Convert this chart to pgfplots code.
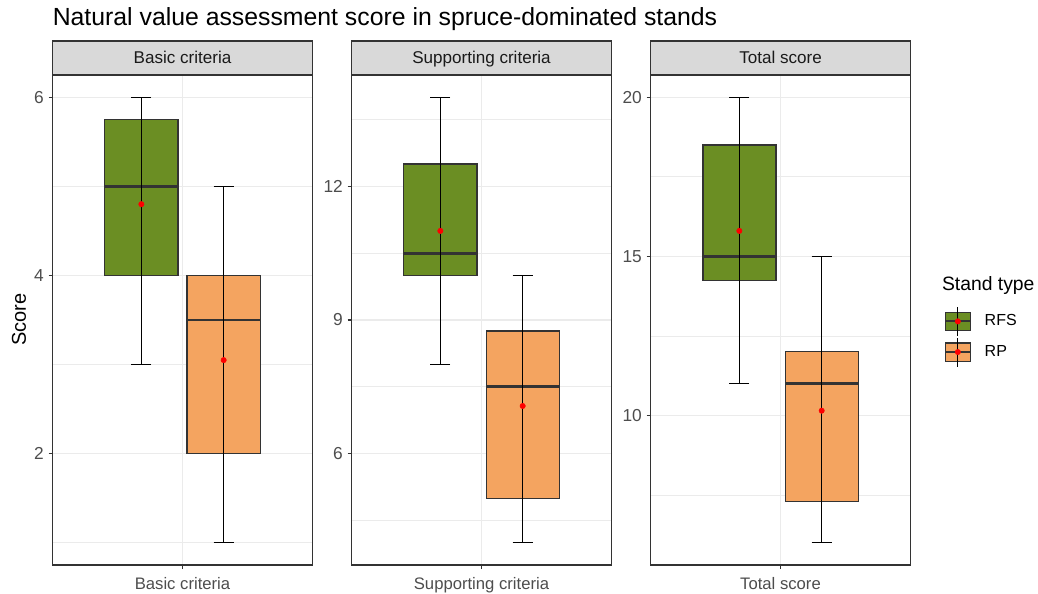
\documentclass[border=0pt]{standalone}
\usepackage{fontspec}
\setmainfont{Liberation Sans}
\usepackage{pgfplots}
\pgfplotsset{compat=1.18}
\usepgfplotslibrary{statistics}
\definecolor{grey10}{HTML}{1A1A1A}
\definecolor{grey20}{HTML}{333333}
\definecolor{grey30}{HTML}{4D4D4D}
\definecolor{grey85}{HTML}{D9D9D9}
\definecolor{grey92}{HTML}{EBEBEB}
\definecolor{olivedrab}{HTML}{6B8E23}
\definecolor{sandybrown}{HTML}{F4A460}
\pgfplotsset{
  facet/.style={
    scale only axis, width=195pt, height=367.5pt, anchor=south west,
    xmin=-0.6, xmax=0.6, xtick={0},
    boxplot/draw direction=y,
    tick align=outside, tick pos=left, major tick length=3pt, minor tick length=0pt,
    grid=both,
    major grid style={draw=grey92, line width=1pt},
    minor grid style={draw=grey92, line width=0.5pt},
    axis line style={draw=grey20, line width=1pt},
    every tick/.style={draw=grey20, line width=0.8pt},
    /pgf/number format/assume math mode=true,
    yticklabel style={font=\fontsize{13}{15}\selectfont, text=grey30},
    xticklabel style={font=\fontsize{12.5}{15}\selectfont, text=grey30, yshift=-3pt},
    every axis title/.style={at={(0.5,1)}, anchor=south, draw=grey20, fill=grey85,
      line width=1pt, outer sep=0pt, inner sep=0pt, minimum width=195pt, minimum height=25.5pt,
      text height=0.85em, text depth=0pt, text=grey10, font=\fontsize{12.8}{15}\selectfont},
  },
  bxRFS/.style={fill=olivedrab, draw=grey20, line width=1pt, mark=none, forget plot,
    boxplot/draw direction=y,
    boxplot/box extend=0.337, boxplot/whisker extend=0.092,
    boxplot/every median/.style={line width=2pt},
    boxplot/every whisker/.style={draw=black, line width=1.1pt}},
  bxRP/.style={bxRFS, fill=sandybrown},
  wline/.style={black, line width=1.1pt, forget plot},
  meanpt/.style={only marks, mark=*, mark size=2pt, color=red, mark options={draw=red, fill=red}, forget plot},
}
\begin{document}
\begin{tikzpicture}
\useasboundingbox (0,0) rectangle (778.5pt,444.75pt);
% Panel 1
\begin{axis}[facet, at={(39.375pt,21pt)}, ymin=0.75, ymax=6.25, ytick={2,4,6}, minor ytick={1,3,5},
  xticklabels={Basic criteria}, title={Basic criteria}]
\addplot+[bxRFS, boxplot prepared={draw position=-0.19, lower whisker=3, lower quartile=4, median=5, upper quartile=5.75, upper whisker=6}] coordinates {};
\addplot[wline] coordinates {(-0.19,3) (-0.19,6)};
\addplot[meanpt] coordinates {(-0.19,4.8)};
\addplot+[bxRP, boxplot prepared={draw position=0.19, lower whisker=1, lower quartile=2, median=3.5, upper quartile=4, upper whisker=5}] coordinates {};
\addplot[wline] coordinates {(0.19,1) (0.19,5)};
\addplot[meanpt] coordinates {(0.19,3.05)};
\end{axis}
% Panel 2
\begin{axis}[facet, at={(263.625pt,21pt)}, ymin=3.5, ymax=14.5, ytick={6,9,12}, minor ytick={4.5,7.5,10.5,13.5},
  xticklabels={Supporting criteria}, title={Supporting criteria}]
\addplot+[bxRFS, boxplot prepared={draw position=-0.19, lower whisker=8, lower quartile=10, median=10.5, upper quartile=12.5, upper whisker=14}] coordinates {};
\addplot[wline] coordinates {(-0.19,8) (-0.19,14)};
\addplot[meanpt] coordinates {(-0.19,11)};
\addplot+[bxRP, boxplot prepared={draw position=0.19, lower whisker=4, lower quartile=5, median=7.5, upper quartile=8.75, upper whisker=10}] coordinates {};
\addplot[wline] coordinates {(0.19,4) (0.19,10)};
\addplot[meanpt] coordinates {(0.19,7.07)};
\end{axis}
% Panel 3
\begin{axis}[facet, at={(487.875pt,21pt)}, ymin=5.3, ymax=20.7, ytick={10,15,20}, minor ytick={7.5,12.5,17.5},
  xticklabels={Total score}, title={Total score},
  legend style={at={(1.1288,0.5286)}, anchor=north west, draw=none, fill=none, inner sep=0pt,
    row sep=0.3pt, /tikz/column sep=10pt, nodes={inner sep=0pt, text=black, font=\fontsize{12}{14}\selectfont}},
  legend cell align=left]
\addlegendimage{legend image code/.code={
  \draw[grey20, line width=1pt, fill=olivedrab] (0pt,-6.9pt) rectangle (18.75pt,6.9pt);
  \draw[grey20, line width=1.6pt] (0pt,0pt) -- (18.75pt,0pt);
  \draw[black, line width=0.9pt] (9.375pt,-10.9pt) -- (9.375pt,10.9pt);
  \fill[red] (9.375pt,0pt) circle (2pt);}}
\addlegendentry{RFS}
\addlegendimage{legend image code/.code={
  \draw[grey20, line width=1pt, fill=sandybrown] (0pt,-6.9pt) rectangle (18.75pt,6.9pt);
  \draw[grey20, line width=1.6pt] (0pt,0pt) -- (18.75pt,0pt);
  \draw[black, line width=0.9pt] (9.375pt,-10.9pt) -- (9.375pt,10.9pt);
  \fill[red] (9.375pt,0pt) circle (2pt);}}
\addlegendentry{RP}
\addplot+[bxRFS, boxplot prepared={draw position=-0.19, lower whisker=11, lower quartile=14.25, median=15, upper quartile=18.5, upper whisker=20}] coordinates {};
\addplot[wline] coordinates {(-0.19,11) (-0.19,20)};
\addplot[meanpt] coordinates {(-0.19,15.8)};
\addplot+[bxRP, boxplot prepared={draw position=0.19, lower whisker=6, lower quartile=7.3, median=11, upper quartile=12, upper whisker=15}] coordinates {};
\addplot[wline] coordinates {(0.19,6) (0.19,15)};
\addplot[meanpt] coordinates {(0.19,10.15)};
\end{axis}
% Texts
\node[anchor=base west, inner sep=0pt, font=\fontsize{18.6}{22}\selectfont] at (39.4pt,425.25pt) {Natural value assessment score in spruce-dominated stands};
\node[rotate=90, inner sep=0pt, font=\fontsize{15}{18}\selectfont] at (14.25pt,205.1pt) {Score};
\node[anchor=base west, inner sep=0pt, font=\fontsize{14.5}{17}\selectfont] at (706.3pt,226.5pt) {Stand type};
\end{tikzpicture}
\end{document}
